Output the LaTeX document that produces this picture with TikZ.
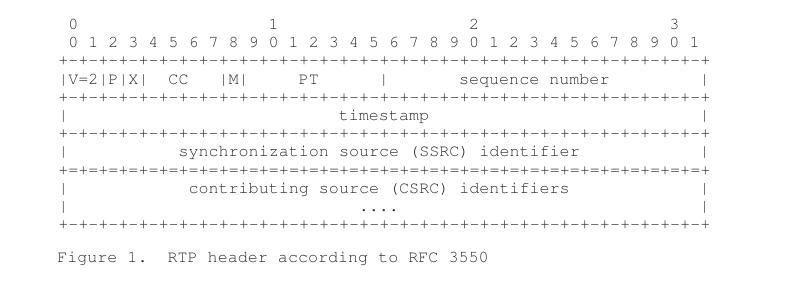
\documentclass[tikz,border=0pt]{standalone}
\usepackage[T1]{fontenc}
\usepackage{tikz}
\usepackage{xcolor}

\definecolor{ttink}{RGB}{45,45,45}

% one 32-bit word of border characters
\newcommand{\dashword}{+-+-+-+-+-+-+-+-+-+-+-+-+-+-+-+-+-+-+-+-+-+-+-+-+-+-+-+-+-+-+-+-+}
\newcommand{\eqword}{+=+=+=+=+=+=+=+=+=+=+=+=+=+=+=+=+=+=+=+=+=+=+=+=+=+=+=+=+=+=+=+=+}

\begin{document}
\begin{tikzpicture}[x=0.75pt,y=-0.75pt]
\tikzstyle{tt} = [
	anchor=base west,
	inner sep=0pt,
	text=ttink,
	font=\fontfamily{pcr}\fontsize{12.54}{13.6}\selectfont
];

\useasboundingbox (0,0) rectangle (790,281);

% character grid: x = one column, y = one text line
\begin{scope}[xshift=43.5pt,yshift=-22.2pt,x=7.515pt,y=-13.65pt]
	%bit numbers
	\foreach \t in {0,...,3}
		\node[tt](tens\t) at ({1+20*\t},0) {\t};
	\foreach \b [evaluate=\b as \d using {int(mod(\b,10))}] in {0,...,31}
		\node[tt](bit\b) at ({1+2*\b},1) {\d};

	%borders
	\foreach \r in {2,4,6,11}
		\node[tt](border\r) at (0,\r) {\dashword};
	\node[tt](border8) at (0,8) {\eqword};

	%side bars
	\foreach \r in {3,5,7,9,10} {
		\node[tt](left\r) at (0,\r) {|};
		\node[tt](right\r) at (64,\r) {|};
	}

	%first word
	\node[tt](vpx) at (1,3) {V=2|P|X|};
	\node[tt](cc) at (11,3) {CC};
	\node[tt](mark) at (16,3) {|M|};
	\node[tt](pt) at (24,3) {PT};
	\node[tt](ptbar) at (32,3) {|};
	\node[tt](seq) at (40,3) {sequence number};

	%remaining words
	\node[tt](ts) at (28,5) {timestamp};
	\node[tt](ssrc) at (12,7) {synchronization source (SSRC) identifier};
	\node[tt](csrc) at (13,9) {contributing source (CSRC) identifiers};
	\node[tt](more) at (30,10) {....};
\end{scope}

\node[tt](caption) at (57,263) {Figure 1.\ \ RTP header according to RFC 3550};

\end{tikzpicture}
\end{document}
